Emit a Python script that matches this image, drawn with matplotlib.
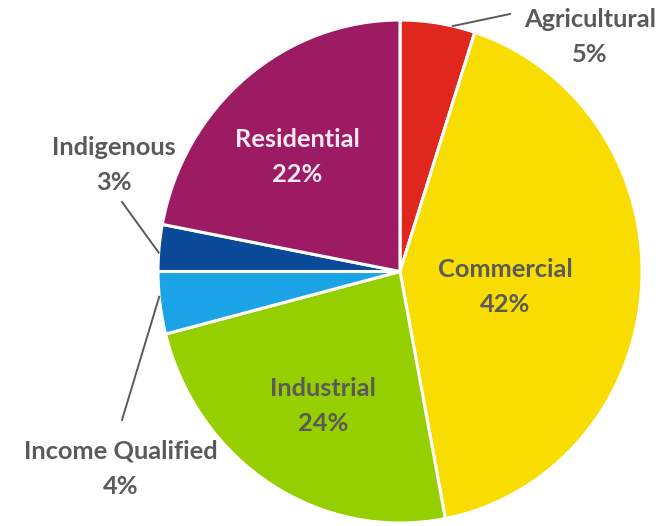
import numpy as np
import matplotlib.pyplot as plt

categories = ["Agricultural", "Commercial", "Industrial", "Income Qualified", "Indigenous", "Residential"]
shares = [5, 42, 24, 4, 3, 22]
colors = ["#E0271D", "#F9DC00", "#95CF00", "#1AA3E6", "#0A4A99", "#9C1B63"]

W, H = 671, 526
fig = plt.figure(figsize=(W / 100, H / 100), dpi=100)
# pie occupies pixel box x 158..642, y 20..523 (slightly taller than wide)
cx, cy, rx, ry = 400, 271.5, 242, 251.5
ax = fig.add_axes([(cx - rx) / W, (H - cy - ry) / H, 2 * rx / W, 2 * ry / H])

wedges, _ = ax.pie(shares, colors=colors, startangle=90, counterclock=False,
                   radius=1, center=(0, 0), frame=False,
                   wedgeprops=dict(edgecolor="white", linewidth=2.2))
ax.set_xlim(-1, 1)
ax.set_ylim(-1, 1)
ax.set_aspect("auto")
ax.axis("off")


def to_data(px, py):
    return (px - cx) / rx, (cy - py) / ry


txt = "#5A5A5A"
font = dict(family=["Lato", "DejaVu Sans"], fontweight="bold", fontsize=18.3,
            ha="center", va="center", linespacing=1.65)

# label positions in pixels and text colours
label_pos = {
    "Agricultural": ((590, 37), txt),
    "Commercial": ((505, 287), txt),
    "Industrial": ((323, 406), txt),
    "Income Qualified": ((121, 469), txt),
    "Indigenous": ((114, 165), txt),
    "Residential": ((297, 157), "#FBEAF3"),
}
for name, share in zip(categories, shares):
    (px, py), col = label_pos[name]
    x, y = to_data(px, py)
    ax.text(x, y, f"{name}\n{share}%", color=col, clip_on=False, **font)

# leader lines: (fraction across the wedge where the line starts, pixel end point)
leaders = {
    "Agricultural": (0.3, (510, 14)),
    "Income Qualified": (0.4, (122, 420)),
    "Indigenous": (0.6, (122, 202)),
}
for w, name in zip(wedges, categories):
    if name not in leaders:
        continue
    frac, end = leaders[name]
    ang = np.deg2rad(w.theta1 + frac * (w.theta2 - w.theta1))
    x0, y0 = np.cos(ang), np.sin(ang)
    x1, y1 = to_data(*end)
    ax.plot([x0, x1], [y0, y1], color="#5A5A5A", lw=1.4, clip_on=False)

fig.savefig("out.png", dpi=100, facecolor="white")
